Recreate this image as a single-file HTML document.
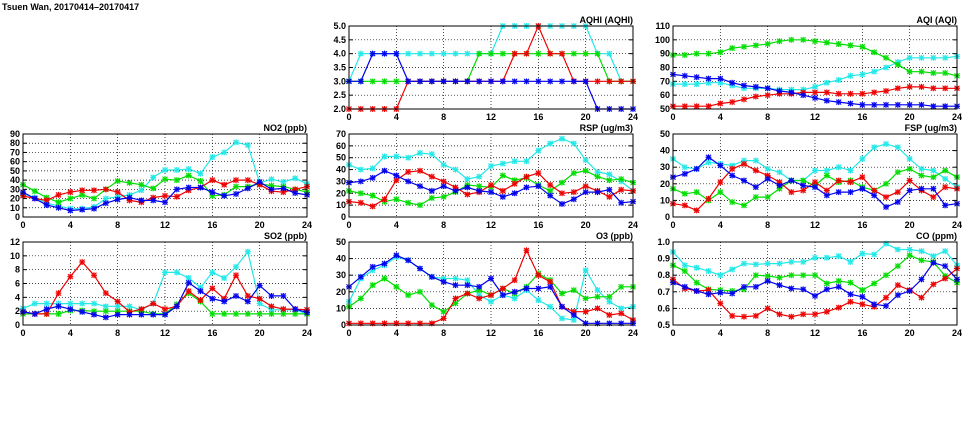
<!DOCTYPE html>
<html><head><meta charset="utf-8"><style>
html,body{margin:0;padding:0;background:#fff;width:975px;height:447px;overflow:hidden}
svg{display:block}
text{font-family:"Liberation Sans",sans-serif;font-size:9px;font-weight:bold;fill:#000}
</style></head><body>
<svg id="s" width="975" height="447" xmlns="http://www.w3.org/2000/svg">
<text x="2" y="10" style="font-size:9px">Tsuen Wan, 20170414–20170417</text>
</svg>
<script>
const C={c:"#22e8e8",g:"#00dd00",r:"#ee0000",b:"#0000ee"};
const P=[
{t:"AQHI (AQHI)",x:349,y:26,min:2,max:5,st:0.5,f:1,d:{
c:[3,4,4,4,4,4,4,4,4,4,4,4,4,5,5,5,5,5,5,5,5,4,4,3,3],
g:[3,3,3,3,3,3,3,3,3,3,3,4,4,4,4,4,4,4,4,4,4,4,3,3,3],
r:[2,2,2,2,2,3,3,3,3,3,3,3,3,3,4,4,5,4,4,3,3,3,3,3,3],
b:[3,3,4,4,4,3,3,3,3,3,3,3,3,3,3,3,3,3,3,3,3,2,2,2,2]}},
{t:"AQI (AQI)",x:673,y:26,min:50,max:110,st:10,f:0,d:{
g:[89,89,90,90,91,94,95,96,97,99,100,100,99,98,97,96,95,91,87,82,77,77,76,76,74],
c:[68,68,68,69,69,67,65,65,65,64,64,64,66,69,71,74,75,77,80,84,87,87,87,87,88],
b:[75,74,73,72,72,69,67,66,65,63,62,60,58,56,55,54,53,53,53,53,53,53,52,52,52],
r:[52,52,52,52,54,55,57,59,60,61,61,62,62,62,61,61,61,62,63,65,66,66,65,65,65]}},
{t:"NO2 (ppb)",x:23,y:134,min:0,max:90,st:10,f:0,d:{
c:[25,21,15,12,9,9,11,20,22,24,29,43,51,51,52,47,65,70,81,78,37,41,38,42,36],
g:[35,28,21,16,20,24,20,30,39,37,35,31,41,40,45,39,23,24,33,33,36,34,33,30,27],
r:[23,20,18,24,27,29,29,30,27,18,16,21,23,22,29,32,40,35,40,40,35,28,27,30,33],
b:[27,20,13,10,7,8,9,15,19,21,18,18,16,30,32,32,27,23,25,31,38,30,31,26,24]}},
{t:"RSP (ug/m3)",x:349,y:134,min:0,max:70,st:10,f:0,d:{
c:[44,40,41,51,51,50,54,53,44,40,32,34,43,45,47,47,56,62,66,62,48,38,36,30,22],
g:[22,20,18,13,15,12,10,16,17,21,27,26,25,35,31,33,27,22,29,37,39,34,31,32,29],
r:[13,12,9,15,31,38,39,34,30,25,19,21,27,22,28,34,37,27,20,21,26,22,17,23,22],
b:[29,30,33,39,35,30,26,22,26,22,25,22,21,17,20,25,26,18,11,15,21,21,23,12,13]}},
{t:"FSP (ug/m3)",x:673,y:134,min:0,max:50,st:10,f:0,d:{
c:[35,30,29,33,32,31,34,34,29,27,22,22,28,28,30,28,35,42,44,42,35,29,28,23,18],
g:[17,14,15,10,15,9,7,12,12,17,22,22,19,25,21,22,18,16,20,27,29,25,24,28,24],
r:[8,7,4,11,21,29,32,28,25,21,15,16,21,16,22,21,24,16,12,15,22,16,12,18,17],
b:[24,26,29,36,31,25,22,18,23,19,22,19,18,13,15,15,17,13,6,9,16,17,17,7,8]}},
{t:"SO2 (ppb)",x:23,y:242,min:0,max:12,st:2,f:0,d:{
c:[2.4,3.1,3.1,3.1,3.1,3.1,3.1,2.7,2.7,2.7,2.2,3.1,7.6,7.6,6.8,5.4,7.6,6.8,8.4,10.6,3.1,2.2,2.2,2.2,1.6],
g:[1.6,1.6,1.6,1.6,2.1,2.1,2.0,2.0,2.0,2.0,2.0,1.6,1.6,3.0,4.6,3.4,1.6,1.6,1.6,1.6,1.6,1.6,1.6,1.6,1.6],
r:[1.9,1.6,1.6,4.6,7.0,9.1,7.2,4.6,3.4,1.9,2.3,3.1,2.3,2.7,4.9,3.6,5.3,3.8,7.2,4.2,3.8,2.7,2.3,2.3,2.2],
b:[1.9,1.6,2.3,2.7,2.3,1.9,1.5,1.1,1.5,1.5,1.5,1.5,1.5,2.7,6.1,4.9,3.8,3.4,4.2,3.4,5.7,4.2,4.2,2.3,1.8]}},
{t:"O3 (ppb)",x:349,y:242,min:0,max:50,st:10,f:0,d:{
c:[14,28,33,36,41,39,34,29,28,28,27,18,14,18,16,21,15,11,4,3,33,21,14,10,11],
g:[11,16,24,28,23,18,20,12,8,13,19,21,18,22,19,23,31,27,19,21,16,17,17,23,23],
r:[1,1,1,1,1,1,1,1,4,16,19,16,18,22,27,45,30,26,11,8,8,10,6,7,3],
b:[23,29,35,37,42,39,34,29,26,24,24,23,28,18,20,22,22,23,11,6,1,1,1,1,1]}},
{t:"CO (ppm)",x:673,y:242,min:0.5,max:1.0,st:0.1,f:1,d:{
c:[.94,.86,.845,.825,.8,.835,.87,.865,.87,.87,.88,.88,.905,.905,.915,.88,.93,.925,.99,.955,.955,.945,.915,.945,.86],
g:[.86,.825,.755,.715,.71,.705,.715,.8,.795,.785,.8,.8,.8,.75,.765,.755,.71,.75,.8,.855,.92,.89,.88,.795,.755],
b:[.755,.73,.705,.685,.695,.69,.73,.73,.765,.74,.72,.715,.675,.715,.73,.685,.67,.625,.615,.68,.705,.775,.875,.855,.775],
r:[.775,.72,.705,.71,.63,.555,.55,.555,.6,.565,.55,.565,.565,.58,.605,.64,.625,.61,.665,.74,.71,.665,.745,.78,.84]}}
];
const W=284,H=83;let h="";
for(const p of P){
 const X=i=>p.x+i*W/24,Y=v=>p.y+H-(v-p.min)/(p.max-p.min)*H;
 h+=`<text x="${p.x+W}" y="${p.y-3}" text-anchor="end">${p.t}</text>`;
 const n=Math.round((p.max-p.min)/p.st);
 for(let k=0;k<=n;k++){const v=p.min+k*p.st,y=Y(v);
  if(k>0&&k<n)h+=`<line x1="${p.x}" x2="${p.x+W}" y1="${y}" y2="${y}" stroke="#000" stroke-width="0.7" stroke-dasharray="1,2"/>`;
  h+=`<line x1="${p.x}" x2="${p.x+4}" y1="${y}" y2="${y}" stroke="#000"/><line x1="${p.x+W-4}" x2="${p.x+W}" y1="${y}" y2="${y}" stroke="#000"/>`;
  h+=`<text x="${p.x-3}" y="${y+3}" text-anchor="end">${v.toFixed(p.f)}</text>`;}
 for(let i=0;i<=24;i+=4){const x=X(i);
  if(i>0&&i<24)h+=`<line x1="${x}" x2="${x}" y1="${p.y}" y2="${p.y+H}" stroke="#000" stroke-width="0.7" stroke-dasharray="1,2"/>`;
  h+=`<text x="${x}" y="${p.y+H+11}" text-anchor="middle">${i}</text>`;}
 for(const k of ["c","g","r","b"]){const d=p.d[k];let pts=d.map((v,i)=>X(i).toFixed(1)+","+Y(v).toFixed(1)).join(" ");
  h+=`<polyline points="${pts}" fill="none" stroke="${C[k]}" stroke-width="1.2"/>`;
  d.forEach((v,i)=>{const x=X(i),y=Y(v);h+=`<path d="M${x-2.5} ${y-2.5}L${x+2.5} ${y+2.5}M${x-2.5} ${y+2.5}L${x+2.5} ${y-2.5}M${x-3} ${y}H${x+3}M${x} ${y-3}V${y+3}" stroke="${C[k]}" stroke-width="1"/><rect x="${x-2}" y="${y-2}" width="4" height="4" fill="none" stroke="${C[k]}" stroke-width="0.6" opacity="0.6"/>`;});}
 h+=`<rect x="${p.x}" y="${p.y}" width="${W}" height="${H}" fill="none" stroke="#000" stroke-width="1"/>`;
}
document.getElementById("s").insertAdjacentHTML("beforeend",h);
</script>
</body></html>
